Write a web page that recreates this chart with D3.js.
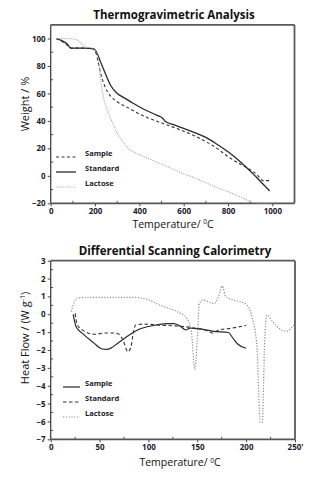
<!DOCTYPE html>
<html>
<head>
<meta charset="utf-8">
<script src="https://cdn.jsdelivr.net/npm/d3@7"></script>
<style>
  body { margin: 0; background: #fff; }
  svg text { font-family: "Open Sans", "Liberation Sans", sans-serif; }
  .tick-label { font-size: 8px; font-weight: bold; fill: #1a1a2a; }
  .legend-label { font-size: 7.5px; font-weight: bold; fill: #1a1a2a; }
</style>
</head>
<body>
<svg id="chart" width="330" height="481"></svg>
<script>
// ---- TGA data (temperature, weight %) ----
const tgaSample = [
  [25,100],[50,98],[75,95],[95,93],[150,93],[190,92.5],[205,89],[215,82],[230,72],[245,65],
  [270,58],[300,54],[350,49.5],[400,45],[450,41.5],[510,38],[560,35],[600,32.5],[650,29],
  [700,25],[750,20],[800,14],[850,9],[890,5.5],[930,1],[958,-3.5],[990,-3.5]
];
const tgaStandard = [
  [25,100],[50,98.5],[75,96],[90,93],[150,93],[195,92.5],[210,89],[225,83],[245,75],
  [270,66],[300,60],[330,57],[370,53],[420,48.5],[480,44],[505,42],[515,40],[560,37],
  [600,34.5],[650,31.5],[700,28],[750,23],[800,17.5],[850,11],[900,3.5],[940,-3],
  [970,-8],[988,-11]
];
const tgaLactose = [
  [25,100],[80,100],[120,99],[140,96],[155,94],[190,93],[205,91],[215,84],[225,70],
  [240,56],[255,48],[275,40],[300,31],[325,25],[350,20],[400,15.5],[450,12],[500,8.5],
  [550,5],[600,1.5],[650,-1.5],[700,-5],[750,-8.5],[800,-11.5],[850,-15],[900,-18.5],
  [930,-19.6],[990,-19.8]
];

// ---- DSC data (temperature, heat flow W/g) ----
const dscSample = [
  [23,0],[26,-0.7],[33,-1.1],[44,-1.6],[52,-1.93],[57,-1.97],[62,-1.88],[68,-1.65],
  [78,-1.25],[90,-0.85],[105,-0.63],[119,-0.52],[126,-0.52],[133,-0.68],[138,-0.88],
  [143,-0.77],[153,-0.82],[167,-0.96],[182,-1.02],[186,-1.3],[191,-1.65],[200,-1.9]
];
const dscStandard = [
  [25,0.05],[27,-0.55],[33,-0.9],[45,-1.12],[55,-1.05],[65,-1.05],[70,-1.12],[74,-1.45],
  [79,-2.1],[82,-1.85],[85,-0.9],[87,-0.6],[95,-0.55],[110,-0.6],[129,-0.66],[145,-0.75],
  [160,-0.92],[166,-1.05],[172,-0.88],[185,-0.78],[200,-0.62]
];
const dscLactose = [
  [21,0.15],[27,0.9],[37,0.95],[60,0.95],[85,0.95],[98,0.85],[112,0.5],[129,0.15],
  [139,-0.2],[144,-1.0],[147.5,-3.1],[150,-1.4],[152,0.6],[156,0.8],[167,0.6],[172,1.05],
  [175.5,1.58],[179,1.0],[187,0.8],[199,0.6],[206,-0.15],[211,-1.8],[214.5,-6.05],
  [216.5,-6.05],[219,-1.5],[221,-0.05],[227,-0.4],[237,-0.9],[241,-0.95],[249,-0.6]
];

const tgaSeries = [
  {name: 'Sample', data: tgaSample, dash: '3,2.5', color: '#333', width: 1.1},
  {name: 'Standard', data: tgaStandard, dash: null, color: '#2a2a2a', width: 1.3},
  {name: 'Lactose', data: tgaLactose, dash: '1.2,1.2', color: '#b0b0b0', width: 1.2}
];
const dscSeries = [
  {name: 'Sample', data: dscSample, dash: null, color: '#2a2a2a', width: 1.2},
  {name: 'Standard', data: dscStandard, dash: '3.5,2.5', color: '#333', width: 1.1},
  {name: 'Lactose', data: dscLactose, dash: '1.2,1.6', color: '#8a8a8a', width: 1.2}
];

const svg = d3.select('#chart');

function drawPanel(cfg) {
  const x = d3.scaleLinear().domain(cfg.xDomain).range([cfg.left, cfg.right]);
  const y = d3.scaleLinear().domain(cfg.yDomain).range([cfg.bottom, cfg.top]);
  const g = svg.append('g');

  // title
  g.append('text')
    .attr('x', cfg.titleX).attr('y', cfg.titleY)
    .attr('text-anchor', 'middle')
    .style('font-size', '11.5px').style('font-weight', 'bold').attr('fill', '#111')
    .text(cfg.title);

  // minor ticks
  cfg.xMinor.forEach(v => g.append('line')
    .attr('x1', x(v)).attr('x2', x(v)).attr('y1', cfg.bottom).attr('y2', cfg.bottom - 2.5)
    .attr('stroke', '#555').attr('stroke-width', 1));
  cfg.yMinor.forEach(v => g.append('line')
    .attr('x1', cfg.left).attr('x2', cfg.left + 2.5).attr('y1', y(v)).attr('y2', y(v))
    .attr('stroke', '#555').attr('stroke-width', 1));

  // axes
  const xAxis = d3.axisBottom(x).tickValues(cfg.xTicks).tickSize(3)
    .tickFormat(cfg.xFormat || (d => d));
  const yAxis = d3.axisLeft(y).tickValues(cfg.yTicks).tickSize(3)
    .tickFormat(d => d < 0 ? '\u2212' + Math.abs(d) : d);
  const xg = g.append('g').attr('transform', `translate(0,${cfg.bottom})`).call(xAxis);
  const yg = g.append('g').attr('transform', `translate(${cfg.left},0)`).call(yAxis);
  [xg, yg].forEach(a => {
    a.select('.domain').remove();
    a.selectAll('.tick line').attr('stroke', '#444');
    a.selectAll('.tick text').attr('class', 'tick-label').attr('fill', null);
  });
  xg.selectAll('.tick text').attr('y', 5);
  yg.selectAll('.tick text').attr('x', -5);

  // frame
  g.append('line').attr('x1', cfg.left).attr('x2', cfg.left).attr('y1', cfg.top).attr('y2', cfg.bottom)
    .attr('stroke', '#444').attr('stroke-width', 1.3);
  g.append('line').attr('x1', cfg.left).attr('x2', cfg.right).attr('y1', cfg.bottom).attr('y2', cfg.bottom)
    .attr('stroke', '#555').attr('stroke-width', 1.8);
  g.append('line').attr('x1', cfg.left).attr('x2', cfg.right).attr('y1', cfg.top).attr('y2', cfg.top)
    .attr('stroke', '#5a5a5a').attr('stroke-width', 1.8);
  g.append('line').attr('x1', cfg.right).attr('x2', cfg.right).attr('y1', cfg.top).attr('y2', cfg.bottom)
    .attr('stroke', '#5a5a5a').attr('stroke-width', 1.8);

  // curves
  const line = d3.line().x(d => x(d[0])).y(d => y(d[1])).curve(d3.curveMonotoneX);
  cfg.series.forEach(s => {
    g.append('path').datum(s.data)
      .attr('d', line)
      .attr('fill', 'none')
      .attr('stroke', s.color)
      .attr('stroke-width', s.width)
      .attr('stroke-dasharray', s.dash);
  });

  // legend
  cfg.series.forEach((s, i) => {
    const ly = cfg.legendY + i * cfg.legendGap;
    g.append('line')
      .attr('x1', cfg.legendX).attr('x2', cfg.legendX + cfg.legendLen)
      .attr('y1', ly).attr('y2', ly)
      .attr('stroke', s.color).attr('stroke-width', s.width)
      .attr('stroke-dasharray', s.dash);
    g.append('text').attr('class', 'legend-label')
      .attr('x', cfg.legendTextX).attr('y', ly - 1.5)
      .text(s.name);
  });

  // x label
  const xl = g.append('text')
    .attr('x', cfg.xLabelX).attr('y', cfg.xLabelY)
    .attr('text-anchor', 'middle')
    .style('font-size', '10.5px').attr('fill', '#111');
  xl.append('tspan').text('Temperature/ ');
  xl.append('tspan').attr('dy', -3.5).style('font-size', '6.5px').text('0');
  xl.append('tspan').attr('dy', 3.5).text('C');

  // y label
  const yl = g.append('text')
    .attr('transform', `translate(${cfg.yLabelX},${cfg.yLabelY}) rotate(-90)`)
    .attr('text-anchor', 'middle')
    .style('font-size', '11px').attr('fill', '#111');
  cfg.yLabel(yl);
}

drawPanel({
  title: 'Thermogravimetric Analysis', titleX: 174, titleY: 19,
  left: 50.7, right: 294.5, top: 24.8, bottom: 203.3,
  xDomain: [0, 1100], yDomain: [-20, 110],
  xTicks: [0, 200, 400, 600, 800, 1000], xMinor: [100, 300, 500, 700, 900],
  yTicks: [-20, 0, 20, 40, 60, 80, 100], yMinor: [-10, 10, 30, 50, 70, 90],
  series: tgaSeries,
  legendX: 56, legendLen: 20, legendTextX: 85, legendY: 157, legendGap: 15,
  xLabelX: 173, xLabelY: 227.5,
  yLabelX: 29, yLabelY: 104,
  yLabel: t => t.text('Weight / %')
});

drawPanel({
  title: 'Differential Scanning Calorimetry', titleX: 175, titleY: 255,
  left: 50.7, right: 295, top: 260.7, bottom: 439.3,
  xDomain: [0, 250], yDomain: [-7, 3],
  xTicks: [0, 50, 100, 150, 200, 250], xMinor: [25, 75, 125, 175, 225],
  xFormat: d => d === 250 ? "250'" : d,
  yTicks: [-7, -6, -5, -4, -3, -2, -1, 0, 1, 2, 3],
  yMinor: [-6.5, -5.5, -4.5, -3.5, -2.5, -1.5, -0.5, 0.5, 1.5, 2.5],
  series: dscSeries,
  legendX: 63, legendLen: 17, legendTextX: 85, legendY: 387, legendGap: 15,
  xLabelX: 180, xLabelY: 466,
  yLabelX: 29, yLabelY: 338,
  yLabel: t => {
    t.append('tspan').text('Heat Flow / (W g');
    t.append('tspan').attr('dy', -4).style('font-size', '7px').text('-1');
    t.append('tspan').attr('dy', 4).text(')');
  }
});
</script>
</body>
</html>
